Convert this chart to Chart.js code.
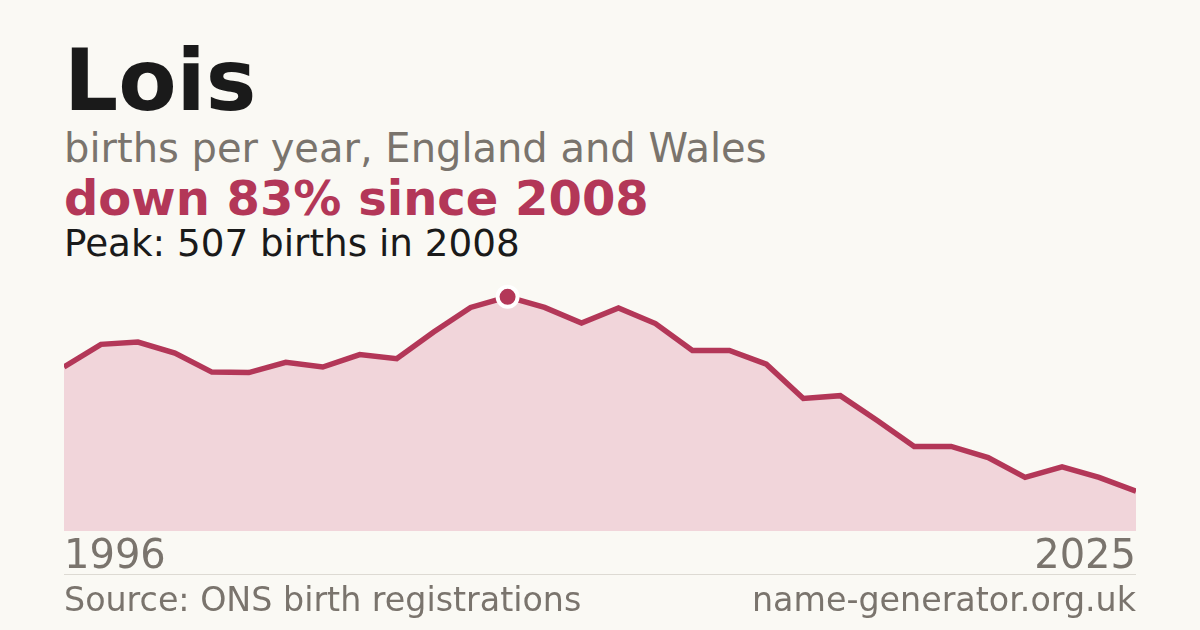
<!DOCTYPE html>
<html>
<head>
<meta charset="utf-8">
<title>Lois</title>
<script src="https://cdn.jsdelivr.net/npm/chart.js@4"></script>
<style>
  html, body { margin: 0; padding: 0; }
  body {
    width: 1200px; height: 630px; overflow: hidden;
    background: #faf9f4;
    font-family: "DejaVu Sans", sans-serif;
    position: relative;
  }
  .t { position: absolute; left: 64px; white-space: nowrap; }
  #name { top: 38px; font-size: 85px; font-weight: bold; color: #1a1a1a; line-height: 1; }
  #sub { top: 124px; font-size: 40px; color: #7a746d; line-height: 1.2; }
  #change { top: 170px; font-size: 48px; font-weight: bold; color: #b33758; line-height: 1.2; }
  #peak { top: 221px; font-size: 37.3px; color: #1a1a1a; line-height: 1.2; }
  #chartWrap { position: absolute; left: 64px; top: 270px; width: 1072px; height: 315px; }
  #rule { position: absolute; left: 64px; top: 574px; width: 1072px; height: 1px; background: #dddad3; }
  .foot { position: absolute; top: 580px; font-size: 33.3px; color: #7a746d; line-height: 1.2; white-space: nowrap; }
  #src { left: 64px; }
  #site { right: 64px; }
</style>
</head>
<body>
<div class="t" id="name">Lois</div>
<div class="t" id="sub">births per year, England and Wales</div>
<div class="t" id="change">down 83% since 2008</div>
<div class="t" id="peak">Peak: 507 births in 2008</div>
<div id="chartWrap"><canvas id="chart"></canvas></div>
<div id="rule"></div>
<div class="foot" id="src">Source: ONS birth registrations</div>
<div class="foot" id="site">name-generator.org.uk</div>

<script>
// ---------- DATA ----------
// Births per year (peak 507 in 2008 is given).
const years = [
  "1996", "1997", "1998", "1999", "2000", "2001", "2002", "2003", "2004", "2005",
  "2006", "2007", "2008", "2009", "2010", "2011", "2012", "2013", "2014", "2015",
  "2016", "2017", "2018", "2019", "2020", "2021", "2022", "2023", "2024", "2025"
];
const births = [
  355, 404, 409, 385, 344, 343, 365, 355, 382, 373,
  431, 484, 507, 484, 450, 483, 449, 391, 391, 361,
  287, 293, 239, 183, 183, 159, 116, 139, 116, 86
];
const peakYear = "2008";

const crimson = "#b33758";
const fillPink = "#f1d5da";
const grey = "#7a746d";

// only the peak gets a marker
const peakIdx = years.indexOf(peakYear);
const pointRadii = years.map((_, i) => (i === peakIdx ? 10 : 0));

new Chart(document.getElementById("chart"), {
  type: "line",
  data: {
    labels: years,
    datasets: [{
      data: births,
      borderColor: crimson,
      borderWidth: 5.5,
      backgroundColor: fillPink,
      fill: "origin",
      tension: 0,
      clip: 0,
      pointRadius: pointRadii,
      pointHoverRadius: pointRadii,
      pointBackgroundColor: crimson,
      pointBorderColor: "#ffffff",
      pointBorderWidth: 4
    }]
  },
  options: {
    responsive: true,
    maintainAspectRatio: false,
    animation: false,
    layout: { padding: 0, autoPadding: false },
    plugins: { legend: { display: false }, tooltip: { enabled: false } },
    scales: {
      x: {
        offset: false,
        grid: { display: false, drawTicks: false },
        border: { display: false },
        ticks: {
          autoSkip: false,
          maxRotation: 0,
          align: "inner",
          padding: 0, // tick padding also insets the plot sideways, so keep it 0
          color: grey,
          font: { family: "DejaVu Sans", size: 40, lineHeight: 1.35 },
          callback: (v, i) => (i === 0 || i === years.length - 1 ? years[i] : "")
        }
      },
      y: {
        display: false,
        min: 0,
        max: 565
      }
    }
  }
});
</script>
</body>
</html>
